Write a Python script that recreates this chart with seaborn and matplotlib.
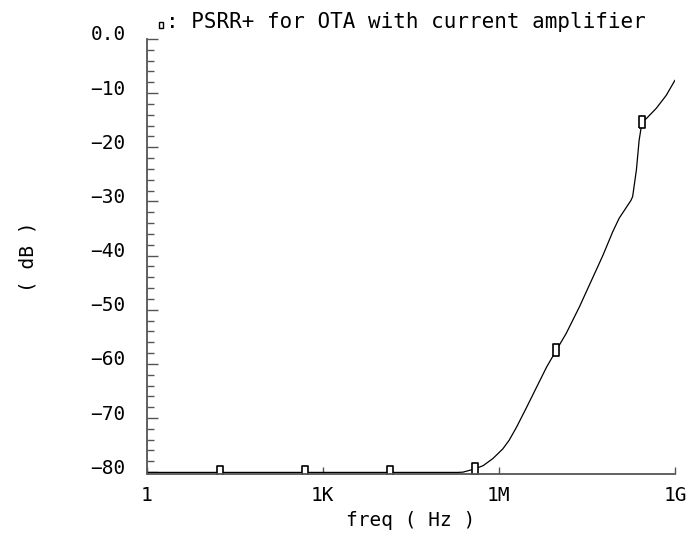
import matplotlib
matplotlib.use("Agg")
import matplotlib.pyplot as plt
import matplotlib.transforms as mtransforms
from matplotlib.patches import Rectangle
from matplotlib.ticker import FixedLocator, MultipleLocator
import pandas as pd
import seaborn as sns

# ---- data ----
freq_hz = [1, 1.0e3, 1.0e5, 2.0e5, 2.45e5, 3.9e5, 5.4e5, 7.9e5, 1.17e6, 1.5e6,
           2.0e6, 2.95e6, 4.4e6, 6.5e6, 9.5e6, 1.4e7, 2.35e7, 5.9e7, 8.7e7,
           1.12e8, 1.78e8, 1.9e8, 2.2e8, 2.45e8, 2.75e8, 3.25e8, 4.8e8,
           7.1e8, 1.0e9]
psrr_db = [-80.05, -80.05, -80.05, -80.05, -80.0, -79.4, -78.8, -77.5, -75.7, -74.1,
           -71.7, -68.1, -64.3, -60.6, -57.5, -54.4, -49.5, -40.0, -35.6,
           -33.1, -29.8, -29.1, -24.2, -18.7, -15.3, -14.7, -12.8,
           -10.4, -7.6]
marker_hz = [18, 5.1e2, 1.4e4, 3.9e5, 9.5e6, 2.75e8]
marker_db = [-80.05, -80.05, -80.05, -79.4, -57.5, -15.3]
x_tick_hz = [1, 1e3, 1e6, 1e9]
x_tick_labels = ["1", "1K", "1M", "1G"]
y_tick_db = [0, -10, -20, -30, -40, -50, -60, -70, -80]
y_tick_labels = ["0.0", "\u221210", "\u221220", "\u221230", "\u221240",
                 "\u221250", "\u221260", "\u221270", "\u221280"]
legend_text = ": PSRR+ for OTA with current amplifier"
x_label = "freq ( Hz )"
y_label = "( dB )"

df = pd.DataFrame({"freq": freq_hz, "dB": psrr_db})
dm = pd.DataFrame({"freq": marker_hz, "dB": marker_db})

sns.set_theme(style="white")
plt.rcParams["font.family"] = ["DejaVu Sans Mono", "DejaVu Sans"]
plt.rcParams["text.color"] = "black"
plt.rcParams["axes.labelcolor"] = "black"
plt.rcParams["xtick.color"] = "black"
plt.rcParams["ytick.color"] = "black"

fig = plt.figure(figsize=(6.91, 5.38), dpi=100)
ax = fig.add_axes([146.5 / 691, 1 - 473.5 / 538, (675 - 146.5) / 691, (473.5 - 39) / 538])

sns.lineplot(data=df, x="freq", y="dB", ax=ax, color="black", linewidth=0.9)
rect = [(-0.5, -1), (0.5, -1), (0.5, 1), (-0.5, 1), (-0.5, -1)]
ax.plot(dm["freq"], dm["dB"], linestyle="none", marker=rect, markersize=8,
        markerfacecolor="white", markeredgecolor="black", markeredgewidth=1.2)

ax.set_xscale("log")
ax.set_xlim(1, 1e9)
ax.set_ylim(-80.25, 0)

for s in ["top", "right"]:
    ax.spines[s].set_visible(False)
for s in ["left", "bottom"]:
    ax.spines[s].set_color("#555555")
    ax.spines[s].set_linewidth(1.3)

ax.xaxis.set_major_locator(FixedLocator(x_tick_hz))
ax.xaxis.set_minor_locator(FixedLocator([]))
ax.set_xticklabels(x_tick_labels)
ax.yaxis.set_major_locator(FixedLocator(y_tick_db))
ax.yaxis.set_minor_locator(MultipleLocator(2))
ax.set_yticklabels(y_tick_labels)

ax.tick_params(axis="y", which="major", direction="in", length=8, width=1.0,
               color="#555555", labelcolor="black", labelsize=14, pad=15, left=True)
ax.tick_params(axis="y", which="minor", direction="in", length=5, width=1.0,
               color="#555555", left=True)
ax.tick_params(axis="x", which="major", direction="in", length=5, width=1.0,
               color="#555555", labelcolor="black", labelsize=14, pad=9, bottom=True)

off = mtransforms.ScaledTranslation(0, 6 / 100, fig.dpi_scale_trans)
for lab in ax.get_yticklabels():
    lab.set_transform(lab.get_transform() + off)

ax.set_xlabel(x_label, fontsize=14, va="center")
ax.set_ylabel(y_label, fontsize=14, va="center")
ax.xaxis.set_label_coords(0.5, -(520 - 473.5) / 434.5)
ax.yaxis.set_label_coords((28 - 146.5) / 528.5, 0.5)
ax.grid(False)

# legend entry
fig.patches.append(Rectangle((159 / 691, 1 - 28 / 538), 4 / 691, 6 / 538,
                             transform=fig.transFigure, fill=False,
                             edgecolor="black", linewidth=1.0))
fig.text(166 / 691, 1 - 28 / 538, legend_text, fontsize=15, ha="left",
         va="baseline", color="black")

fig.savefig("out.png", dpi=100)
